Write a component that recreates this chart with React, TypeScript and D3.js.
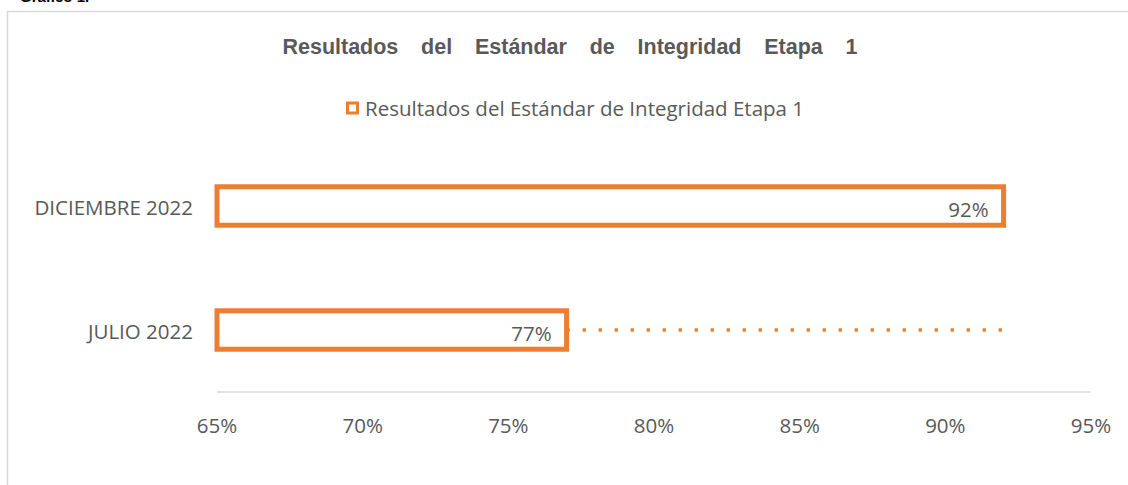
import React from "react";
import * as d3 from "d3";

const categories = ["DICIEMBRE 2022", "JULIO 2022"];
const values = [0.92, 0.77];
const tickValues = [0.65, 0.7, 0.75, 0.8, 0.85, 0.9, 0.95];
const seriesName = "Resultados del Estándar de Integridad Etapa 1";
const titleText = "Resultados del Estándar de Integridad Etapa 1";
const captionText = "Gráfico 1.";

const W = 1128;
const H = 485;
const ORANGE = "#ED7D31";
const TEXT = "#595959";
const FONT = "'Open Sans', Lato, sans-serif";
const FS = 20.5;

export default function App() {
  const x = d3.scaleLinear().domain([0.65, 0.95]).range([217, 1091]);
  const y = d3.scaleBand().domain(categories).range([144, 392]).paddingInner(0.69).paddingOuter(0.345);
  const fmt = d3.format(".0%");
  const bw = y.bandwidth();

  const julio = values[1];
  const dic = values[0];

  return (
    <div style={{ position: "absolute", left: 0, top: 0 }}>
      <svg width={W} height={H} style={{ display: "block" }}>
        <rect x={0} y={0} width={W} height={H} fill="#fff" />
        <text x={20} y={1.5} fontFamily="Arial, 'Liberation Sans', sans-serif" fontWeight="bold" fontSize={15} fill="#000">
          {captionText}
        </text>
        <rect x={7.5} y={11.5} width={W + 10} height={H + 10} fill="none" stroke="#D9D9D9" strokeWidth={1.5} />

        <text
          x={570}
          y={54}
          textAnchor="middle"
          fontFamily="Arial, 'Liberation Sans', sans-serif"
          fontWeight="bold"
          fontSize={21.5}
          fill={TEXT}
          wordSpacing={16.8}
        >
          {titleText}
        </text>

        {/* legend */}
        <rect x={347.5} y={103} width={10} height={10} fill="#fff" stroke={ORANGE} strokeWidth={3} />
        <text x={365} y={108} dominantBaseline="central" fontFamily={FONT} fontSize={FS} fill={TEXT}>
          {seriesName}
        </text>

        {/* axis line */}
        <line x1={x(0.65)} x2={x(0.95)} y1={392} y2={392} stroke="#D9D9D9" strokeWidth={1.5} />
        {tickValues.map((t) => (
          <text key={t} x={x(t)} y={425} textAnchor="middle" dominantBaseline="central" fontFamily={FONT} fontSize={FS} fill={TEXT}>
            {fmt(t)}
          </text>
        ))}

        {/* connector dotted line */}
        <line
          x1={x(julio)}
          x2={x(dic)}
          y1={(y(categories[1]) as number) + bw / 2}
          y2={(y(categories[1]) as number) + bw / 2}
          stroke={ORANGE}
          strokeWidth={3.3}
          strokeDasharray="3.3 12.7"
        />

        {categories.map((c, i) => {
          const yy = y(c) as number;
          return (
            <g key={c}>
              <rect
                x={x(0.65)}
                y={yy}
                width={x(values[i]) - x(0.65)}
                height={bw}
                fill="#fff"
                stroke={ORANGE}
                strokeWidth={5}
              />
              <text x={193} y={yy + bw / 2 + 1} textAnchor="end" dominantBaseline="central" fontFamily={FONT} fontSize={FS} fill={TEXT}>
                {c}
              </text>
              <text x={x(values[i]) - 15} y={yy + bw / 2 + 3} textAnchor="end" dominantBaseline="central" fontFamily={FONT} fontSize={FS} fill={TEXT}>
                {fmt(values[i])}
              </text>
            </g>
          );
        })}
      </svg>
    </div>
  );
}
